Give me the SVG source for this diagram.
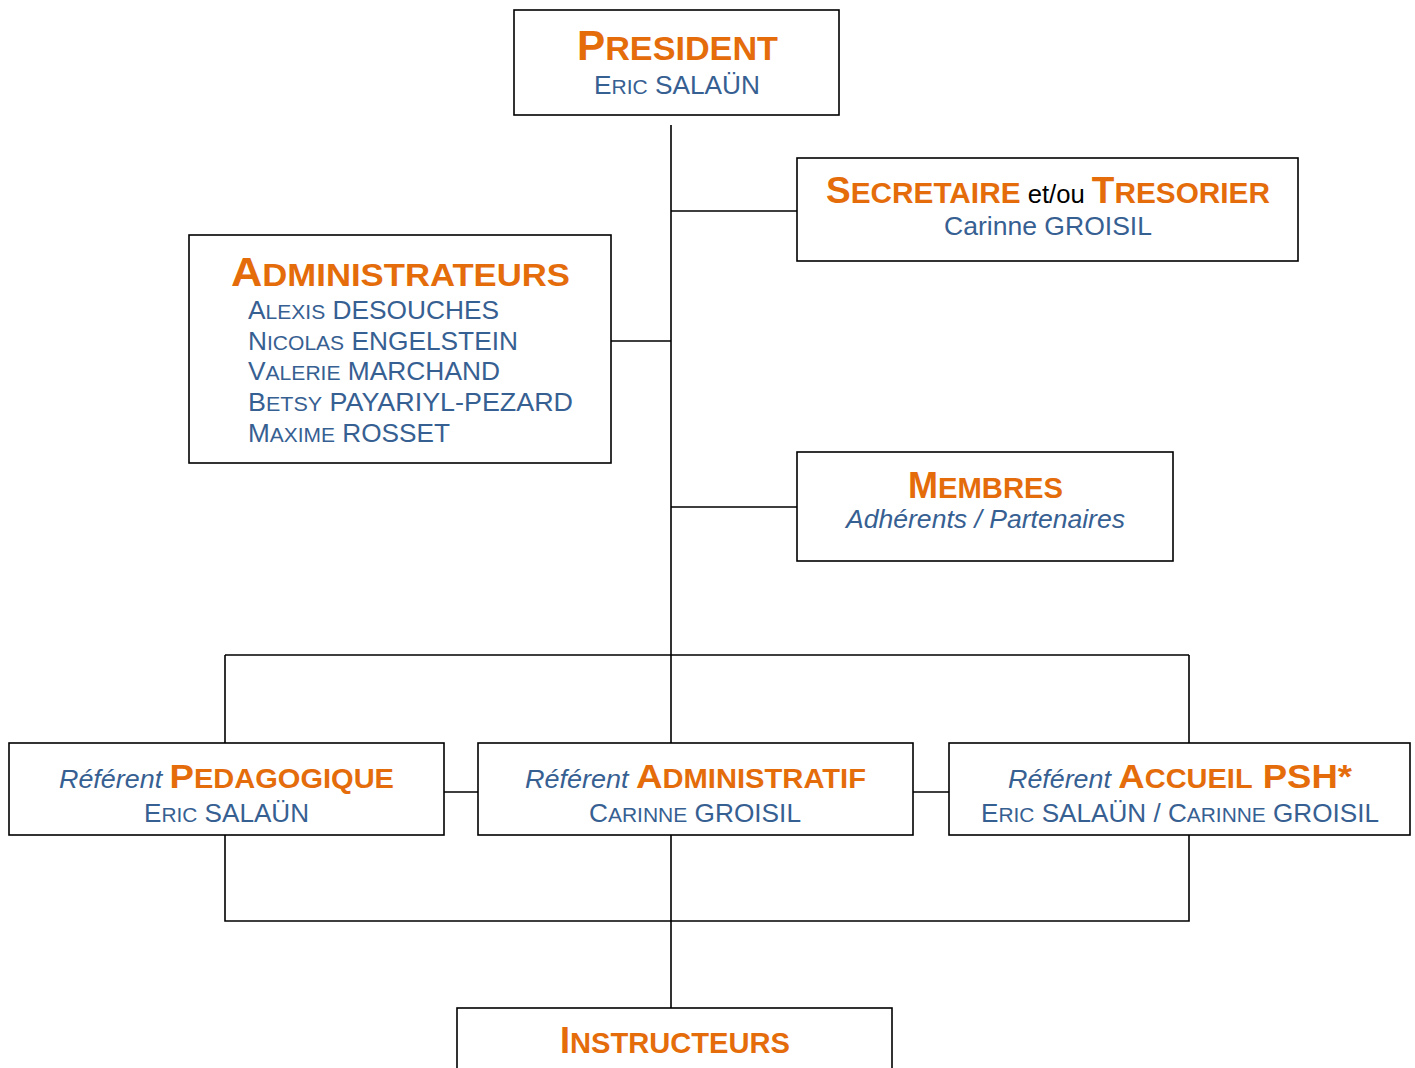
<svg xmlns="http://www.w3.org/2000/svg" width="1415" height="1068" viewBox="0 0 1415 1068">
<style>
.box{fill:#fff;stroke:#000;stroke-width:1.6}
.ln{stroke:#000;stroke-width:1.6;fill:none}
text{font-family:"Liberation Sans",Arial,sans-serif}
.h{fill:#E46C0A;font-weight:bold}
.b{fill:#376092}
.i{fill:#376092;font-style:italic;font-weight:normal}
.k{fill:#000;font-weight:normal}
</style>
<rect width="1415" height="1068" fill="#fff"/>
<g id="connectors">
<path class="ln" d="M671,125V743M671,211H797M611,341H671M671,507H797M225,655H1189M225,655V743M1189,655V743M444,792H478M913,792H949M671,835V1008M225,835V921H1189V835"/>
</g>
<g id="president">
<rect class="box" x="514" y="10" width="325" height="105"/>
<text class="h" x="677.5" y="60" text-anchor="middle" textLength="201" lengthAdjust="spacingAndGlyphs"><tspan font-size="42">P</tspan><tspan font-size="34">RESIDENT</tspan></text>
<text class="b" x="677" y="94" text-anchor="middle" textLength="166" lengthAdjust="spacingAndGlyphs"><tspan font-size="25">E</tspan><tspan font-size="20">RIC</tspan><tspan font-size="25"> SALAÜN</tspan></text>
</g>
<g id="secretaire">
<rect class="box" x="797" y="158" width="501" height="103"/>
<text class="h" x="1048" y="203" text-anchor="middle" textLength="444" lengthAdjust="spacingAndGlyphs"><tspan font-size="36">S</tspan><tspan font-size="29">ECRETAIRE</tspan><tspan class="k" font-size="25"> et/ou </tspan><tspan font-size="36">T</tspan><tspan font-size="29">RESORIER</tspan></text>
<text class="b" x="1048" y="235" text-anchor="middle" font-size="25" textLength="208" lengthAdjust="spacingAndGlyphs">Carinne GROISIL</text>
</g>
<g id="administrateurs">
<rect class="box" x="189" y="235" width="422" height="228"/>
<text class="h" x="400.5" y="286" text-anchor="middle" textLength="339" lengthAdjust="spacingAndGlyphs"><tspan font-size="40">A</tspan><tspan font-size="32">DMINISTRATEURS</tspan></text>
<text class="b" x="248" y="319" textLength="251" lengthAdjust="spacingAndGlyphs"><tspan font-size="25">A</tspan><tspan font-size="20">LEXIS</tspan><tspan font-size="25"> DESOUCHES</tspan></text>
<text class="b" x="248" y="350" textLength="270" lengthAdjust="spacingAndGlyphs"><tspan font-size="25">N</tspan><tspan font-size="20">ICOLAS</tspan><tspan font-size="25"> ENGELSTEIN</tspan></text>
<text class="b" x="248" y="380" textLength="252" lengthAdjust="spacingAndGlyphs"><tspan font-size="25">V</tspan><tspan font-size="20">ALERIE</tspan><tspan font-size="25"> MARCHAND</tspan></text>
<text class="b" x="248" y="411" textLength="325" lengthAdjust="spacingAndGlyphs"><tspan font-size="25">B</tspan><tspan font-size="20">ETSY</tspan><tspan font-size="25"> PAYARIYL-PEZARD</tspan></text>
<text class="b" x="248" y="442" textLength="202" lengthAdjust="spacingAndGlyphs"><tspan font-size="25">M</tspan><tspan font-size="20">AXIME</tspan><tspan font-size="25"> ROSSET</tspan></text>
</g>
<g id="membres">
<rect class="box" x="797" y="452" width="376" height="109"/>
<text class="h" x="985.5" y="498" text-anchor="middle" textLength="155" lengthAdjust="spacingAndGlyphs"><tspan font-size="37">M</tspan><tspan font-size="30">EMBRES</tspan></text>
<text class="i" x="985.5" y="528" text-anchor="middle" font-size="25" textLength="279" lengthAdjust="spacingAndGlyphs">Adhérents / Partenaires</text>
</g>
<g id="pedagogique">
<rect class="box" x="9" y="743" width="435" height="92"/>
<text class="h" x="226.5" y="788" text-anchor="middle" textLength="335" lengthAdjust="spacingAndGlyphs"><tspan class="i" font-size="25">Référent </tspan><tspan font-size="34">P</tspan><tspan font-size="27">EDAGOGIQUE</tspan></text>
<text class="b" x="226.5" y="822" text-anchor="middle" textLength="165" lengthAdjust="spacingAndGlyphs"><tspan font-size="25">E</tspan><tspan font-size="20">RIC</tspan><tspan font-size="25"> SALAÜN</tspan></text>
</g>
<g id="administratif">
<rect class="box" x="478" y="743" width="435" height="92"/>
<text class="h" x="695.5" y="788" text-anchor="middle" textLength="341" lengthAdjust="spacingAndGlyphs"><tspan class="i" font-size="25">Référent </tspan><tspan font-size="34">A</tspan><tspan font-size="27">DMINISTRATIF</tspan></text>
<text class="b" x="695" y="822" text-anchor="middle" textLength="212" lengthAdjust="spacingAndGlyphs"><tspan font-size="25">C</tspan><tspan font-size="20">ARINNE</tspan><tspan font-size="25"> GROISIL</tspan></text>
</g>
<g id="accueil">
<rect class="box" x="949" y="743" width="461" height="92"/>
<text class="h" x="1180" y="788" text-anchor="middle" textLength="344" lengthAdjust="spacingAndGlyphs"><tspan class="i" font-size="25">Référent </tspan><tspan font-size="34">A</tspan><tspan font-size="27">CCUEIL</tspan><tspan font-size="34"> PSH*</tspan></text>
<text class="b" x="1180" y="822" text-anchor="middle" textLength="398" lengthAdjust="spacingAndGlyphs"><tspan font-size="25">E</tspan><tspan font-size="20">RIC</tspan><tspan font-size="25"> SALAÜN / C</tspan><tspan font-size="20">ARINNE</tspan><tspan font-size="25"> GROISIL</tspan></text>
</g>
<g id="instructeurs">
<rect class="box" x="457" y="1008" width="435" height="80"/>
<text class="h" x="675" y="1053" text-anchor="middle" textLength="230" lengthAdjust="spacingAndGlyphs"><tspan font-size="37">I</tspan><tspan font-size="30">NSTRUCTEURS</tspan></text>
</g>
</svg>
